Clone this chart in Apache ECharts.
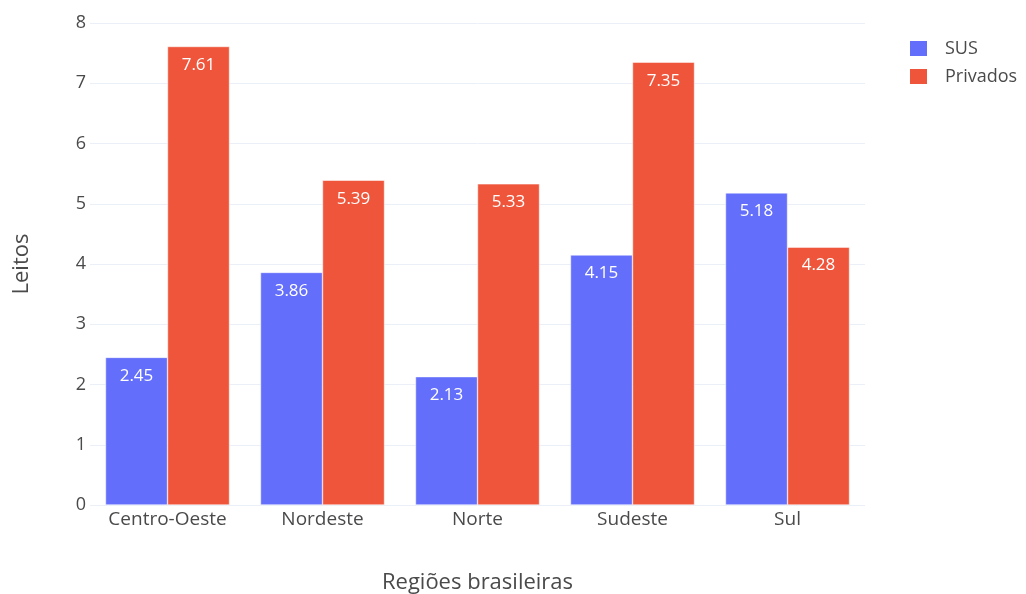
<!DOCTYPE html>
<html><head><meta charset="utf-8">
<script src="https://cdn.jsdelivr.net/npm/echarts@6/dist/echarts.min.js"></script>
<style>html,body{margin:0;padding:0;background:#fff}#c{width:1026px;height:594px}</style>
</head><body><div id="c"></div>
<script>
const categories = ['Centro-Oeste','Nordeste','Norte','Sudeste','Sul'];
const sus = [2.45, 3.86, 2.13, 4.15, 5.18];
const privados = [7.61, 5.39, 5.33, 7.35, 4.28];
const yTicks = [0,1,2,3,4,5,6,7,8];
const FONT = '"Open Sans", "Noto Sans", sans-serif';
const TXT = '#4a4a4a';

const chart = echarts.init(document.getElementById('c'));
const lbl = {show:true, position:'insideTop', distance:10, color:'#fff', fontFamily:FONT, fontSize:17, formatter: p => p.value.toFixed(2)};
chart.setOption({
  animation:false,
  textStyle:{fontFamily:FONT},
  grid:{left:90, right:161, top:23, bottom:89, containLabel:false, outerBoundsMode:'none'},
  legend:{
    data:['SUS','Privados'], orient:'vertical', left:903, top:34, itemGap:9,
    itemWidth:19, itemHeight:17, icon:'rect',
    textStyle:{fontFamily:FONT, fontSize:18, lineHeight:18, color:TXT, padding:[0,0,0,12]}
  },
  xAxis:{
    type:'category', data:categories,
    name:'Regiões brasileiras', nameLocation:'middle', nameGap:67,
    nameTextStyle:{fontFamily:FONT, fontSize:22, color:TXT},
    axisLine:{show:false}, axisTick:{show:false},
    axisLabel:{fontFamily:FONT, fontSize:19, color:TXT, margin:5}
  },
  yAxis:{
    type:'value', min:yTicks[0], max:yTicks[yTicks.length-1], interval:1,
    name:'Leitos', nameLocation:'middle', nameGap:57, nameRotate:90,
    nameTextStyle:{fontFamily:FONT, fontSize:22, color:TXT},
    axisLine:{show:false}, axisTick:{show:false},
    axisLabel:{fontFamily:FONT, fontSize:18, color:TXT, margin:4},
    splitLine:{lineStyle:{color:'#EBF0F8', width:1}}
  },
  series:[
    {name:'SUS', type:'bar', data:sus, barGap:'0%', barCategoryGap:'20%',
     itemStyle:{color:'#636efa', borderColor:'#fff', borderWidth:0.5}, label:lbl},
    {name:'Privados', type:'bar', data:privados,
     itemStyle:{color:'#EF553B', borderColor:'#fff', borderWidth:0.5}, label:lbl}
  ]
});
</script></body></html>
